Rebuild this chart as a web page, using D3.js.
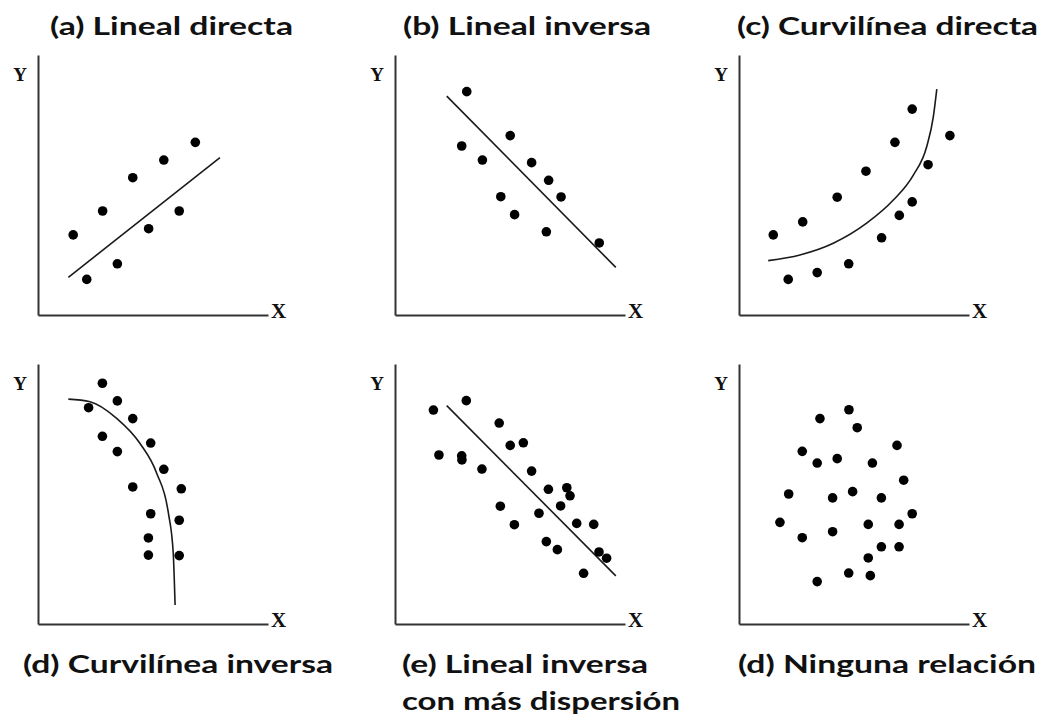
<!DOCTYPE html>
<html>
<head>
<meta charset="utf-8">
<script src="https://cdn.jsdelivr.net/npm/d3@7"></script>
<style>
  html, body { margin: 0; padding: 0; background: #fff; }
  svg { display: block; }
</style>
</head>
<body>
<svg id="chart" width="1048" height="722"></svg>
<script>
// ---------- DATA (values in 0–100 units on each panel's X and Y) ----------
const titles = [
  ["(a) Lineal directa"],
  ["(b) Lineal inversa"],
  ["(c) Curvilínea directa"],
  ["(d) Curvilínea inversa"],
  ["(e) Lineal inversa", "con más dispersión"],
  ["(d) Ninguna relación"]
];
const axisLabelX = "X";
const axisLabelY = "Y";

// (a) Lineal directa
const aX = [15.3, 21.2, 28.1, 34.5, 41.2, 48.1, 54.7, 61.4, 68.4];
const aY = [30.8, 13.7, 40.0, 19.7, 52.8, 33.2, 59.6, 40.0, 66.4];
const aFitX = [13.2, 79.1];
const aFitY = [14.5, 60.5];

// (b) Lineal inversa
const bX = [31.2, 29.0, 38.0, 50.1, 59.4, 66.8, 72.2, 46.0, 52.0, 65.8, 88.8];
const bY = [85.9, 65.0, 59.6, 69.0, 58.6, 51.8, 45.4, 45.5, 38.6, 32.0, 27.7];
const bFitX = [22.5, 96.0];
const bFitY = [84.2, 18.3];

// (c) Curvilínea directa
const cX = [14.9, 21.4, 27.7, 34.0, 42.7, 47.7, 55.2, 62.0, 67.8, 69.7, 75.3, 82.2, 75.3, 91.7];
const cY = [30.8, 13.7, 35.8, 16.3, 45.3, 19.7, 55.3, 29.7, 66.4, 38.3, 43.5, 57.8, 79.2, 69.0];
const cFitX = [12.7, 26.5, 41.0, 55.5, 67.1, 75.8, 81.6, 84.5, 86.0];
const cFitY = [20.9, 23.1, 27.6, 35.3, 44.2, 53.8, 64.7, 76.3, 86.9];

// (d) Curvilínea inversa
const dX = [28.0, 34.5, 22.0, 41.2, 28.0, 49.0, 34.5, 54.7, 41.2, 62.3, 49.0, 61.4, 48.0, 48.0, 61.4];
const dY = [92.6, 85.8, 83.2, 79.0, 72.2, 69.6, 66.3, 59.5, 52.7, 52.0, 42.4, 39.9, 33.1, 26.5, 26.3];
const dFitX = [13.2, 22.6, 34.2, 44.3, 51.6, 56.7, 58.8, 59.6];
const dFitY = [86.5, 85.5, 79.1, 69.5, 58.0, 42.6, 27.2, 7.3];

// (e) Lineal inversa con más dispersión
const eX = [16.7, 31.0, 45.3, 50.1, 55.8, 19.1, 29.0, 29.1, 37.8, 59.4, 66.7, 74.7,
            76.1, 72.0, 45.8, 62.6, 51.9, 79.0, 86.4, 65.8, 70.6, 88.7, 92.0, 82.0];
const eY = [82.3, 85.9, 77.3, 68.7, 69.7, 65.0, 64.7, 63.1, 59.6, 58.8, 51.8, 52.4,
            49.3, 45.4, 45.3, 42.6, 38.2, 38.7, 38.3, 31.7, 28.6, 27.7, 25.3, 19.5];
const eFitX = [22.5, 96.0];
const eFitY = [84.0, 18.5];

// (f) Ninguna relación
const fX = [47.8, 35.2, 51.4, 68.7, 27.5, 42.7, 34.0, 58.0, 71.6, 21.6, 49.4, 40.7, 61.9,
            75.3, 17.8, 56.2, 69.6, 40.7, 27.5, 61.9, 69.6, 56.2, 47.7, 57.1, 34.0];
const fY = [82.4, 79.0, 75.5, 68.7, 66.4, 63.6, 61.9, 61.9, 55.3, 50.0, 50.9, 48.5, 48.5,
            42.4, 39.1, 38.3, 38.3, 35.5, 33.2, 29.7, 29.7, 25.4, 19.6, 18.6, 16.3];

// ---------- LAYOUT ----------
const colX = [38, 395, 739];
const rowY = [315, 624];
const plotW = 230, plotH = 260;

const titlePos = [
  [{x: 50, y: 35, w: 243}],
  [{x: 403, y: 35, w: 248}],
  [{x: 737, y: 35, w: 301}],
  [{x: 23, y: 673, w: 310}],
  [{x: 402, y: 673, w: 246}, {x: 402, y: 710, w: 278}],
  [{x: 738, y: 673, w: 298}]
];

const panels = [
  {xs: aX, ys: aY, fx: aFitX, fy: aFitY, curve: d3.curveLinear},
  {xs: bX, ys: bY, fx: bFitX, fy: bFitY, curve: d3.curveLinear},
  {xs: cX, ys: cY, fx: cFitX, fy: cFitY, curve: d3.curveMonotoneX},
  {xs: dX, ys: dY, fx: dFitX, fy: dFitY, curve: d3.curveMonotoneX},
  {xs: eX, ys: eY, fx: eFitX, fy: eFitY, curve: d3.curveLinear},
  {xs: fX, ys: fY, fx: null, fy: null, curve: null}
];

const svg = d3.select("#chart");

panels.forEach((p, i) => {
  const ox = colX[i % 3];
  const oy = rowY[Math.floor(i / 3)];
  const x = d3.scaleLinear().domain([0, 100]).range([ox, ox + plotW]);
  const y = d3.scaleLinear().domain([0, 100]).range([oy, oy - plotH]);
  const g = svg.append("g");

  // axes (no ticks)
  g.append("g")
    .attr("transform", `translate(0,${oy})`)
    .call(d3.axisBottom(x).ticks(0).tickSizeOuter(0))
    .call(s => s.select(".domain").attr("stroke", "#333").attr("stroke-width", 2));
  g.append("g")
    .attr("transform", `translate(${ox},0)`)
    .call(d3.axisLeft(y).ticks(0).tickSizeOuter(0))
    .call(s => s.select(".domain").attr("stroke", "#333").attr("stroke-width", 2));

  // axis labels
  g.append("text")
    .attr("x", ox + plotW + 3).attr("y", oy + 3)
    .attr("font-family", "'Liberation Serif', 'Times New Roman', serif")
    .attr("font-weight", "bold").attr("font-size", 21)
    .attr("fill", "#111")
    .text(axisLabelX);
  g.append("text")
    .attr("x", ox - 18).attr("y", oy - plotH + 26)
    .attr("text-anchor", "middle")
    .attr("font-family", "'Liberation Serif', 'Times New Roman', serif")
    .attr("font-weight", "bold").attr("font-size", 19)
    .attr("fill", "#111")
    .text(axisLabelY);

  // fit line / curve
  if (p.fx) {
    const pts = p.fx.map((v, k) => [v, p.fy[k]]);
    g.append("path")
      .datum(pts)
      .attr("fill", "none")
      .attr("stroke", "#1a1a1a")
      .attr("stroke-width", 1.6)
      .attr("d", d3.line().x(d => x(d[0])).y(d => y(d[1])).curve(p.curve));
  }

  // points
  g.selectAll("circle")
    .data(p.xs.map((v, k) => [v, p.ys[k]]))
    .join("circle")
    .attr("cx", d => x(d[0]))
    .attr("cy", d => y(d[1]))
    .attr("r", 4.8)
    .attr("fill", "#000");

  // titles
  titles[i].forEach((t, k) => {
    const tp = titlePos[i][k];
    g.append("text")
      .attr("x", tp.x).attr("y", tp.y)
      .attr("font-family", "Lato, 'Open Sans', sans-serif")
      .attr("font-weight", "bold")
      .attr("font-size", 25)
      .attr("fill", "#111")
      .attr("textLength", tp.w)
      .attr("lengthAdjust", "spacingAndGlyphs")
      .text(t);
  });
});
</script>
</body>
</html>
